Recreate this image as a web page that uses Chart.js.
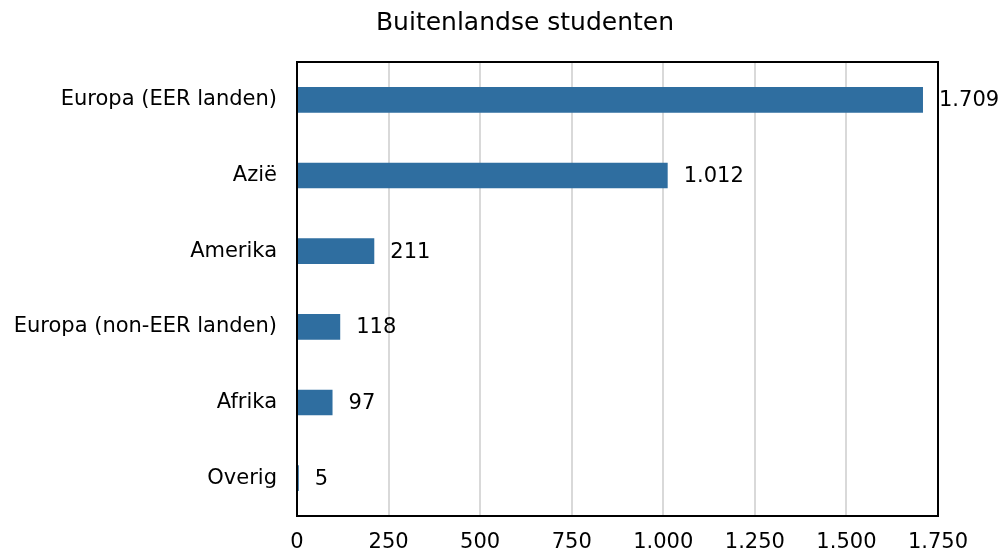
<!DOCTYPE html>
<html>
<head>
<meta charset="utf-8">
<script src="https://cdn.jsdelivr.net/npm/chart.js@4"></script>
<style>
  body { margin: 0; background: #fff; }
  #wrap { width: 1000px; height: 550px; }
</style>
</head>
<body>
<div id="wrap"><canvas id="myChart"></canvas></div>
<script>
const regions = ['Europa (EER landen)', 'Azië', 'Amerika', 'Europa (non-EER landen)', 'Afrika', 'Overig']
const students = [1709, 1012, 211, 118, 97, 5]
const xTicks = [0, 250, 500, 750, 1000, 1250, 1500, 1750]
const chartTitle = 'Buitenlandse studenten'

// dutch thousands separator
function fmt(n) {
    return String(n).replace(/\B(?=(\d{3})+(?!\d))/g, '.')
}

const fontFam = '"DejaVu Sans", Verdana, sans-serif'

const frameAndLabels = {
    id: 'frameAndLabels',
    afterDatasetsDraw(chart) {
        const ctx = chart.ctx
        const a = chart.chartArea
        ctx.save()
        ctx.strokeStyle = '#000'
        ctx.lineWidth = 2
        ctx.strokeRect(a.left, a.top, a.right - a.left, a.bottom - a.top)

        ctx.fillStyle = '#000'
        ctx.font = '21px ' + fontFam
        ctx.textAlign = 'left'
        ctx.textBaseline = 'middle'
        chart.getDatasetMeta(0).data.forEach((bar, i) => {
            ctx.fillText(fmt(students[i]), bar.x + 16, bar.y + 1)
        })

        ctx.font = '25px ' + fontFam
        ctx.textAlign = 'center'
        ctx.fillText(chartTitle, 525, 23)
        ctx.restore()
    }
}

const config = {
    type: 'bar',
    data: {
        labels: regions,
        datasets: [{
            data: students,
            backgroundColor: '#2f6ea0',
            barPercentage: 0.34,
            categoryPercentage: 1
        }]
    },
    options: {
        indexAxis: 'y',
        responsive: true,
        maintainAspectRatio: false,
        animation: false,
        layout: { padding: { top: 62, right: 62, left: 0, bottom: 0 } },
        plugins: {
            legend: { display: false },
            tooltip: { enabled: false }
        },
        scales: {
            x: {
                min: 0,
                max: 1750,
                afterBuildTicks: scale => { scale.ticks = xTicks.map(v => ({ value: v })) },
                afterFit: scale => { scale.height = 34 },
                grid: { color: '#d9d9d9', lineWidth: 2, drawTicks: false },
                border: { display: false },
                ticks: {
                    color: '#000',
                    padding: 14,
                    font: { family: fontFam, size: 21 },
                    callback: v => fmt(v)
                }
            },
            y: {
                afterFit: scale => { scale.width = 297 },
                grid: { display: false, drawTicks: false },
                border: { display: false },
                ticks: {
                    color: '#000',
                    padding: 20,
                    font: { family: fontFam, size: 21 }
                }
            }
        }
    },
    plugins: [frameAndLabels]
}

new Chart(document.getElementById('myChart'), config)
</script>
</body>
</html>
